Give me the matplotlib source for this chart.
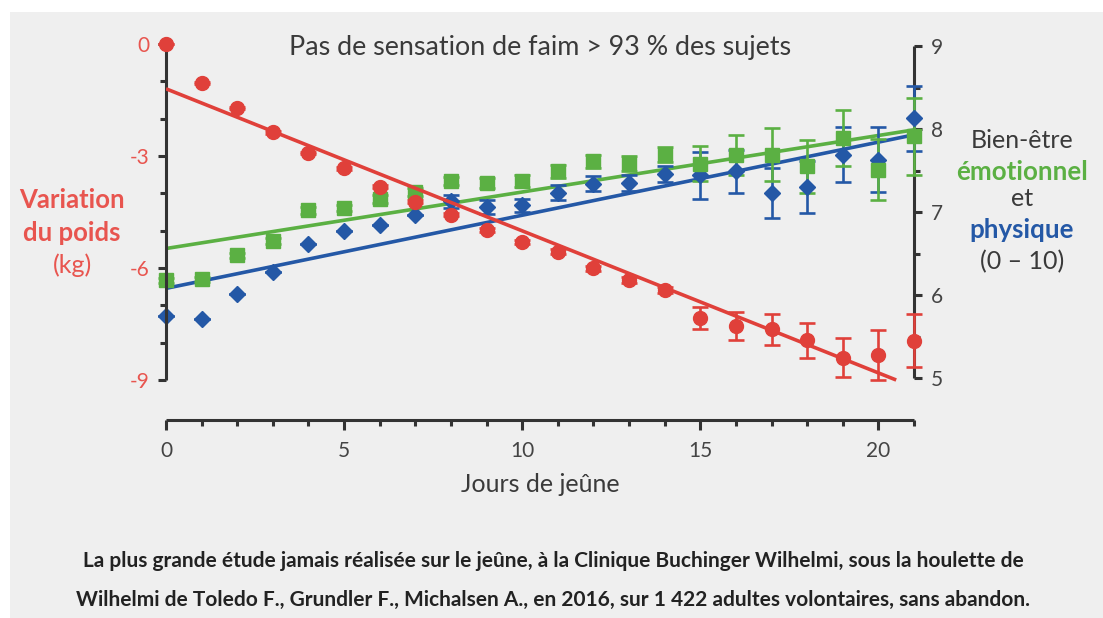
import matplotlib
matplotlib.use("Agg")
import matplotlib.pyplot as plt
from matplotlib.ticker import FixedLocator
from matplotlib.patches import Rectangle

plt.rcParams['font.family'] = ['Lato', 'DejaVu Sans']

# ---------------- data ----------------
days = list(range(0, 22))
weight = [0.0, -1.05, -1.72, -2.37, -2.91, -3.33, -3.82, -4.22, -4.57, -4.99, -5.3,
          -5.56, -6.01, -6.32, -6.59, -7.34, -7.55, -7.64, -7.93, -8.40, -8.33, -7.95]
weight_err = [0.0, 0.02, 0.02, 0.03, 0.03, 0.04, 0.04, 0.05, 0.05, 0.05, 0.06,
              0.06, 0.06, 0.07, 0.07, 0.30, 0.37, 0.41, 0.47, 0.52, 0.66, 0.71]
physique = [5.75, 5.71, 6.01, 6.28, 6.61, 6.77, 6.84, 6.96, 7.13, 7.06, 7.08,
            7.23, 7.34, 7.35, 7.46, 7.44, 7.49, 7.23, 7.30, 7.69, 7.63, 8.13]
physique_err = [0.0, 0.0, 0.0, 0.0, 0.0, 0.0, 0.0, 0.0, 0.08, 0.08, 0.08,
                0.09, 0.09, 0.10, 0.10, 0.28, 0.26, 0.30, 0.31, 0.33, 0.39, 0.39]
emotionnel = [6.18, 6.19, 6.48, 6.65, 7.02, 7.05, 7.16, 7.24, 7.37, 7.35, 7.37,
              7.49, 7.61, 7.59, 7.69, 7.58, 7.69, 7.69, 7.55, 7.89, 7.51, 7.91]
emotionnel_err = [0.03, 0.03, 0.03, 0.04, 0.04, 0.04, 0.05, 0.05, 0.05, 0.06, 0.07,
                  0.08, 0.08, 0.09, 0.09, 0.21, 0.24, 0.32, 0.32, 0.34, 0.37, 0.46]

# regression lines (end points)
weight_fit_x = [0, 20.5]
weight_fit_y = [-1.2, -9.0]
physique_fit_x = [0, 21]
physique_fit_y = [6.08, 7.93]
emotionnel_fit_x = [0, 21]
emotionnel_fit_y = [6.56, 7.99]

left_ticks = [0, -3, -6, -9]
left_minor = [-1, -2, -4, -5, -7, -8]
right_ticks = [5, 6, 7, 8, 9]
right_minor = [5.5, 6.5, 7.5, 8.5]
x_ticks = [0, 5, 10, 15, 20]
x_minor = [1, 2, 3, 4, 6, 7, 8, 9, 11, 12, 13, 14, 16, 17, 18, 19, 21]

title = "Pas de sensation de faim > 93 % des sujets"
xlabel = "Jours de jeûne"
footer1 = "La plus grande étude jamais réalisée sur le jeûne, à la Clinique Buchinger Wilhelmi, sous la houlette de"
footer2 = "Wilhelmi de Toledo F., Grundler F., Michalsen A., en 2016, sur 1\u202f422 adultes volontaires, sans abandon."

# ---------------- style ----------------
RED = "#e0403a"
RED_LBL = "#e8554f"
GREEN = "#5bb043"
BLUE = "#2458a6"
DARK = "#333333"
BG = "#efefef"

W, H = 1103, 618
fig = plt.figure(figsize=(W / 100, H / 100), dpi=100, facecolor="white")
fig.patches.append(Rectangle((10 / W, 0), 1, 1 - 12 / H, transform=fig.transFigure,
                             facecolor=BG, edgecolor="none", zorder=-10))

x0, x1 = 166, 914
ytop, ybot = 33, 420
ax = fig.add_axes([x0 / W, 1 - ybot / H, (x1 - x0) / W, (ybot - ytop) / H])
ax.patch.set_visible(False)
ax2 = ax.twinx()
ax2.patch.set_visible(False)

ax.set_xlim(0, 21)
# left: 0 at y=44, -9 at y=380
ppu_l = (380 - 44) / 9
ax.set_ylim(-9 - (ybot - 380) / ppu_l, 0 + (44 - ytop) / ppu_l)
# right: 9 at y=46, 5 at y=378
ppu_r = (378 - 46) / 4
ax2.set_ylim(5 - (ybot - 378) / ppu_r, 9 + (46 - ytop) / ppu_r)

lw_sp = 2.2
for a in (ax, ax2):
    for s in a.spines.values():
        s.set_visible(False)
ax.spines['left'].set_visible(True)
ax.spines['left'].set_bounds(-9, 0)
ax.spines['bottom'].set_visible(True)
ax.spines['bottom'].set_bounds(0, 21)
ax2.spines['right'].set_visible(True)
ax2.spines['right'].set_bounds(5, 9)
for s in (ax.spines['left'], ax.spines['bottom'], ax2.spines['right']):
    s.set_color(DARK)
    s.set_linewidth(lw_sp)
    s.set_capstyle('butt')

# ticks
ax.set_yticks(left_ticks)
ax.set_yticklabels([str(t) for t in left_ticks])
ax.yaxis.set_minor_locator(FixedLocator(left_minor))
ax.set_xticks(x_ticks)
ax.set_xticklabels([str(t) for t in x_ticks])
ax.xaxis.set_minor_locator(FixedLocator(x_minor))
ax2.set_yticks(right_ticks)
ax2.set_yticklabels([str(t) for t in right_ticks])
ax2.yaxis.set_minor_locator(FixedLocator(right_minor))

ax.tick_params(axis='y', which='major', direction='out', length=6, width=lw_sp,
               color=DARK, labelcolor=RED_LBL, labelsize=15, pad=6)
ax.tick_params(axis='y', which='minor', direction='out', length=4, width=lw_sp, color=DARK)
ax.tick_params(axis='x', which='major', direction='out', length=7, width=lw_sp,
               color=DARK, labelcolor="#444444", labelsize=15, pad=8)
ax.tick_params(axis='x', which='minor', direction='out', length=4, width=lw_sp, color=DARK)
ax2.tick_params(axis='y', which='major', direction='out', length=6, width=lw_sp,
                color=DARK, labelcolor="#444444", labelsize=15, pad=6)
ax2.tick_params(axis='y', which='minor', direction='out', length=4, width=lw_sp, color=DARK)

# fit lines
ax.plot(weight_fit_x, weight_fit_y, color=RED, lw=2.6, zorder=3, solid_capstyle='butt')
ax2.plot(physique_fit_x, physique_fit_y, color=BLUE, lw=2.6, zorder=3, solid_capstyle='butt')
ax2.plot(emotionnel_fit_x, emotionnel_fit_y, color=GREEN, lw=2.6, zorder=3, solid_capstyle='butt')

ekw = dict(linestyle='none', capsize=6, elinewidth=1.9, capthick=1.9, clip_on=False, zorder=4)
ax2.errorbar(days, physique, yerr=physique_err, fmt='D', color=BLUE, markersize=8,
             markeredgecolor=BLUE, **ekw)
ax2.errorbar(days, emotionnel, yerr=emotionnel_err, fmt='s', color=GREEN, markersize=10,
             markeredgecolor=GREEN, **ekw)
ax.errorbar(days, weight, yerr=weight_err, fmt='o', color=RED, markersize=10,
            markeredgecolor=RED, **ekw)
ax.set_zorder(ax2.get_zorder() + 1)

# texts
fig.text(540 / W, 1 - 47 / H, title, ha='center', va='center', fontsize=19.4, color="#3a3a3a")
fig.text(540 / W, 1 - 484 / H, xlabel, ha='center', va='center', fontsize=18, color="#3a3a3a")
fig.text(72 / W, 1 - 200 / H, "Variation", ha='center', va='center', fontsize=18.5,
         color=RED_LBL, fontweight='bold')
fig.text(72 / W, 1 - 233 / H, "du poids", ha='center', va='center', fontsize=18.5,
         color=RED_LBL, fontweight='bold')
fig.text(72 / W, 1 - 265 / H, "(kg)", ha='center', va='center', fontsize=18, color=RED_LBL)

rx = 1022 / W
fig.text(rx, 1 - 140 / H, "Bien-être", ha='center', va='center', fontsize=18, color="#3a3a3a")
fig.text(rx, 1 - 172 / H, "émotionnel", ha='center', va='center', fontsize=18.6, color=GREEN,
         fontweight='bold')
fig.text(rx, 1 - 199 / H, "et", ha='center', va='center', fontsize=18, color="#3a3a3a")
fig.text(rx, 1 - 230 / H, "physique", ha='center', va='center', fontsize=18.6, color=BLUE,
         fontweight='bold')
fig.text(rx, 1 - 262 / H, "(0 – 10)", ha='center', va='center', fontsize=18, color="#3a3a3a")

fig.text(553 / W, 1 - 561 / H, footer1, ha='center', va='center', fontsize=15,
         color="#222222", fontweight='bold')
fig.text(553 / W, 1 - 600 / H, footer2, ha='center', va='center', fontsize=15,
         color="#222222", fontweight='bold')

fig.savefig("out.png", dpi=100, facecolor=fig.get_facecolor())
